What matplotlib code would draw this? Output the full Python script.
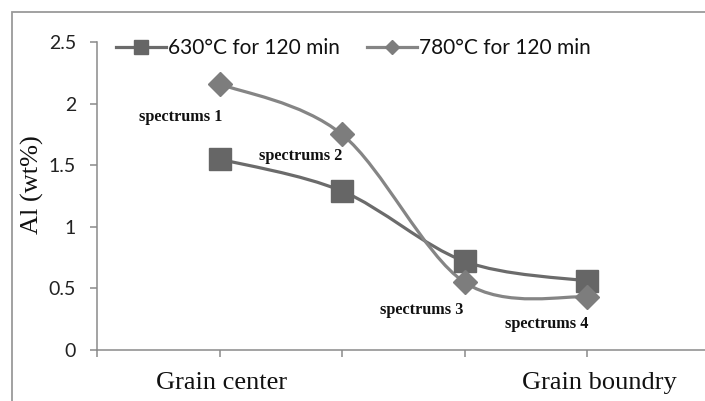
import matplotlib
matplotlib.use("Agg")
import matplotlib.pyplot as plt
from matplotlib.path import Path
from matplotlib.patches import PathPatch, Rectangle
from matplotlib.lines import Line2D

# data
positions = [1, 2, 3, 4]
series_630 = [1.55, 1.29, 0.72, 0.56]
series_780 = [2.16, 1.75, 0.55, 0.43]
series_names = ["630°C for 120 min", "780°C for 120 min"]
point_labels = ["spectrums 1", "spectrums 2", "spectrums 3", "spectrums 4"]
label_pos = [(0.68, 1.89), (1.66, 1.575), (2.65, 0.325), (3.67, 0.21)]
yticks = [0, 0.5, 1, 1.5, 2, 2.5]
ytick_labels = ["0", "0.5", "1", "1.5", "2", "2.5"]
cat_labels = ["Grain center", "Grain boundry"]
cat_label_x = [1.02, 4.1]

W, H = 705, 401
fig = plt.figure(figsize=(W / 100, H / 100), dpi=100)
fig.patch.set_facecolor("white")

# outer frame
fig.patches.append(Rectangle((11.5 / W, -0.1), 1.2, (H - 12) / H + 0.1,
                             transform=fig.transFigure, fill=False,
                             edgecolor="#9a9a9a", lw=1.3))

left, right = 97 / W, 1.0
bottom, top = (H - 350) / H, (H - 42) / H
ax = fig.add_axes([left, bottom, right - left, top - bottom])
ax.set_xlim(0, (W - 97) / 122.5)
ax.set_ylim(0, 2.5)
for s in ["top", "right"]:
    ax.spines[s].set_visible(False)
for s in ["left", "bottom"]:
    ax.spines[s].set_color("#8a8a8a")
    ax.spines[s].set_linewidth(1.1)
ax.set_xticks([0, 1, 2, 3, 4])
ax.set_xticklabels([])
ax.set_yticks(yticks)
ax.set_yticklabels(ytick_labels, fontfamily="Lato", fontsize=14, color="#222222")
ax.tick_params(axis="both", direction="out", length=5, width=1.1, color="#8a8a8a")
ax.tick_params(axis="y", pad=10)


def smooth_path(xs, ys):
    pts = list(zip(xs, ys))
    n = len(pts)
    verts = [pts[0]]
    codes = [Path.MOVETO]
    for i in range(n - 1):
        p0 = pts[i - 1] if i > 0 else pts[i]
        p1 = pts[i]
        p2 = pts[i + 1]
        p3 = pts[i + 2] if i + 2 < n else pts[i + 1]
        c1 = (p1[0] + (p2[0] - p0[0]) / 6, p1[1] + (p2[1] - p0[1]) / 6)
        c2 = (p2[0] - (p3[0] - p1[0]) / 6, p2[1] - (p3[1] - p1[1]) / 6)
        verts += [c1, c2, p2]
        codes += [Path.CURVE4] * 3
    return Path(verts, codes)


c630_line, c630_mark = "#6b6b6b", "#666666"
c780_line, c780_mark = "#858585", "#7d7d7d"

ax.add_patch(PathPatch(smooth_path(positions, series_630), fill=False,
                       edgecolor=c630_line, lw=2.3, zorder=2))
ax.add_patch(PathPatch(smooth_path(positions, series_780), fill=False,
                       edgecolor=c780_line, lw=2.3, zorder=2))
ax.plot(positions, series_630, ls="none", marker="s", ms=15.5,
        color=c630_mark, zorder=3)
ax.plot(positions, series_780, ls="none", marker="D", ms=12.5,
        color=c780_mark, zorder=4)

for lab, (x, y) in zip(point_labels, label_pos):
    ax.text(x, y, lab, ha="center", va="center", fontfamily="Liberation Serif",
            fontweight="bold", fontsize=11.7, color="#111111")

for lab, x in zip(cat_labels, cat_label_x):
    ax.text(x, -0.27, lab, ha="center", va="center", fontfamily="Liberation Serif",
            fontsize=19, color="#111111", transform=ax.transData, clip_on=False)

fig.text(32 / W, 1 - 185 / H, "Al (wt%)", rotation=90, ha="center", va="center",
         fontfamily="Liberation Serif", fontsize=19, color="#111111")

handles = [
    Line2D([], [], color=c630_line, lw=2.3, marker="s", ms=10, markerfacecolor=c630_mark,
           markeredgecolor=c630_mark),
    Line2D([], [], color=c780_line, lw=2.3, marker="D", ms=7, markerfacecolor=c780_mark,
           markeredgecolor=c780_mark),
]
leg = fig.legend(handles, series_names, loc="center left",
                 bbox_to_anchor=(108 / W, 1 - 48 / H), ncol=2, frameon=False,
                 prop={"family": "Lato", "size": 15}, handlelength=2.4,
                 handletextpad=0.1, columnspacing=1.3, borderaxespad=0)
for t in leg.get_texts():
    t.set_color("#111111")

fig.savefig("out.png", dpi=100)
